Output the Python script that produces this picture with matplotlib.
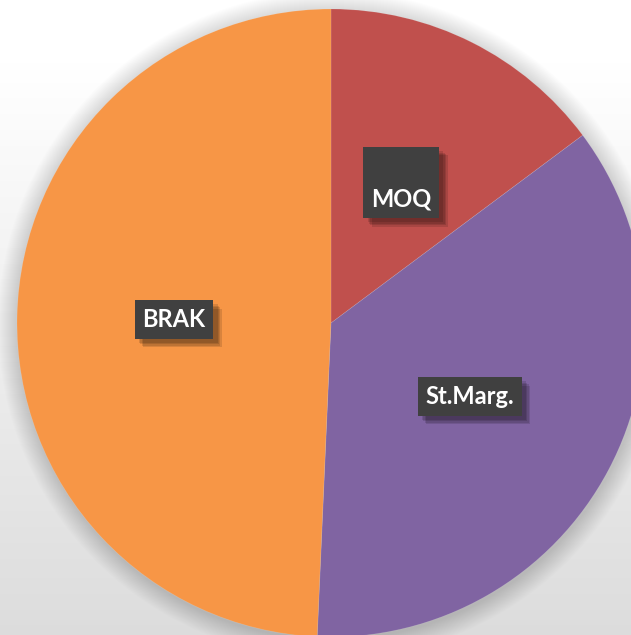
import numpy as np
import matplotlib
matplotlib.use("Agg")
import matplotlib.pyplot as plt
from matplotlib import patheffects as pe

categories = ["MOQ", "St.Marg.", "BRAK"]
values = [14.8, 35.9, 49.3]
colors = ["#C0504D", "#8064A2", "#F79646"]
label_texts = ["\nMOQ", "St.Marg.", "BRAK"]

W, H = 631, 635
fig = plt.figure(figsize=(W / 100, H / 100), dpi=100)

# background gradient
bg = fig.add_axes([0, 0, 1, 1])
bg.set_axis_off()
yy = np.linspace(0, 1, 200)[:, None]
shade = 1.0 - 0.135 * np.clip((yy - 0.1) / 0.9, 0, 1) ** 1.0
img = np.repeat(shade, 10, axis=1)
bg.imshow(np.dstack([img, img, img]), aspect="auto", extent=[0, 1, 0, 1], origin="upper")
bg.set_xlim(0, 1)
bg.set_ylim(0, 1)

ax = fig.add_axes([0, 0, 1, 1])
ax.set_axis_off()
cx, cy, R = 331, H - 323, 314

# soft shadow around the pie
for i in range(20):
    c = plt.Circle((cx + 1, cy - 2), R + 20 - i, color="black", alpha=0.008, lw=0)
    ax.add_patch(c)

wedges, _ = ax.pie(values, colors=colors, startangle=90, counterclock=False,
                   center=(cx, cy), radius=R, wedgeprops=dict(linewidth=0.5, edgecolor=(1, 1, 1, 0.15)),
                   frame=True)
ax.set_axis_off()
ax.set_xlim(0, W)
ax.set_ylim(0, H)
ax.set_aspect("auto")

shadow_fx = [pe.SimplePatchShadow(offset=(3 + k, -3 - k), shadow_rgbFace="black", alpha=0.12)
             for k in range(4)]

fracs = np.array(values) / np.sum(values)
start = 90.0
for frac, txt in zip(fracs, label_texts):
    mid = start - frac * 360 / 2
    start -= frac * 360
    x = cx + 0.5 * R * np.cos(np.radians(mid))
    y = cy + 0.5 * R * np.sin(np.radians(mid))
    t = ax.text(x, y, txt, ha="center", va="center", color="white", fontsize=17,
                fontweight="bold", family=["Lato", "DejaVu Sans"], linespacing=1.5,
                bbox=dict(boxstyle="square,pad=0.33", fc="#404040", ec="none"))
    t.get_bbox_patch().set_path_effects(shadow_fx + [pe.Normal()])

fig.savefig("out.png", dpi=100)
